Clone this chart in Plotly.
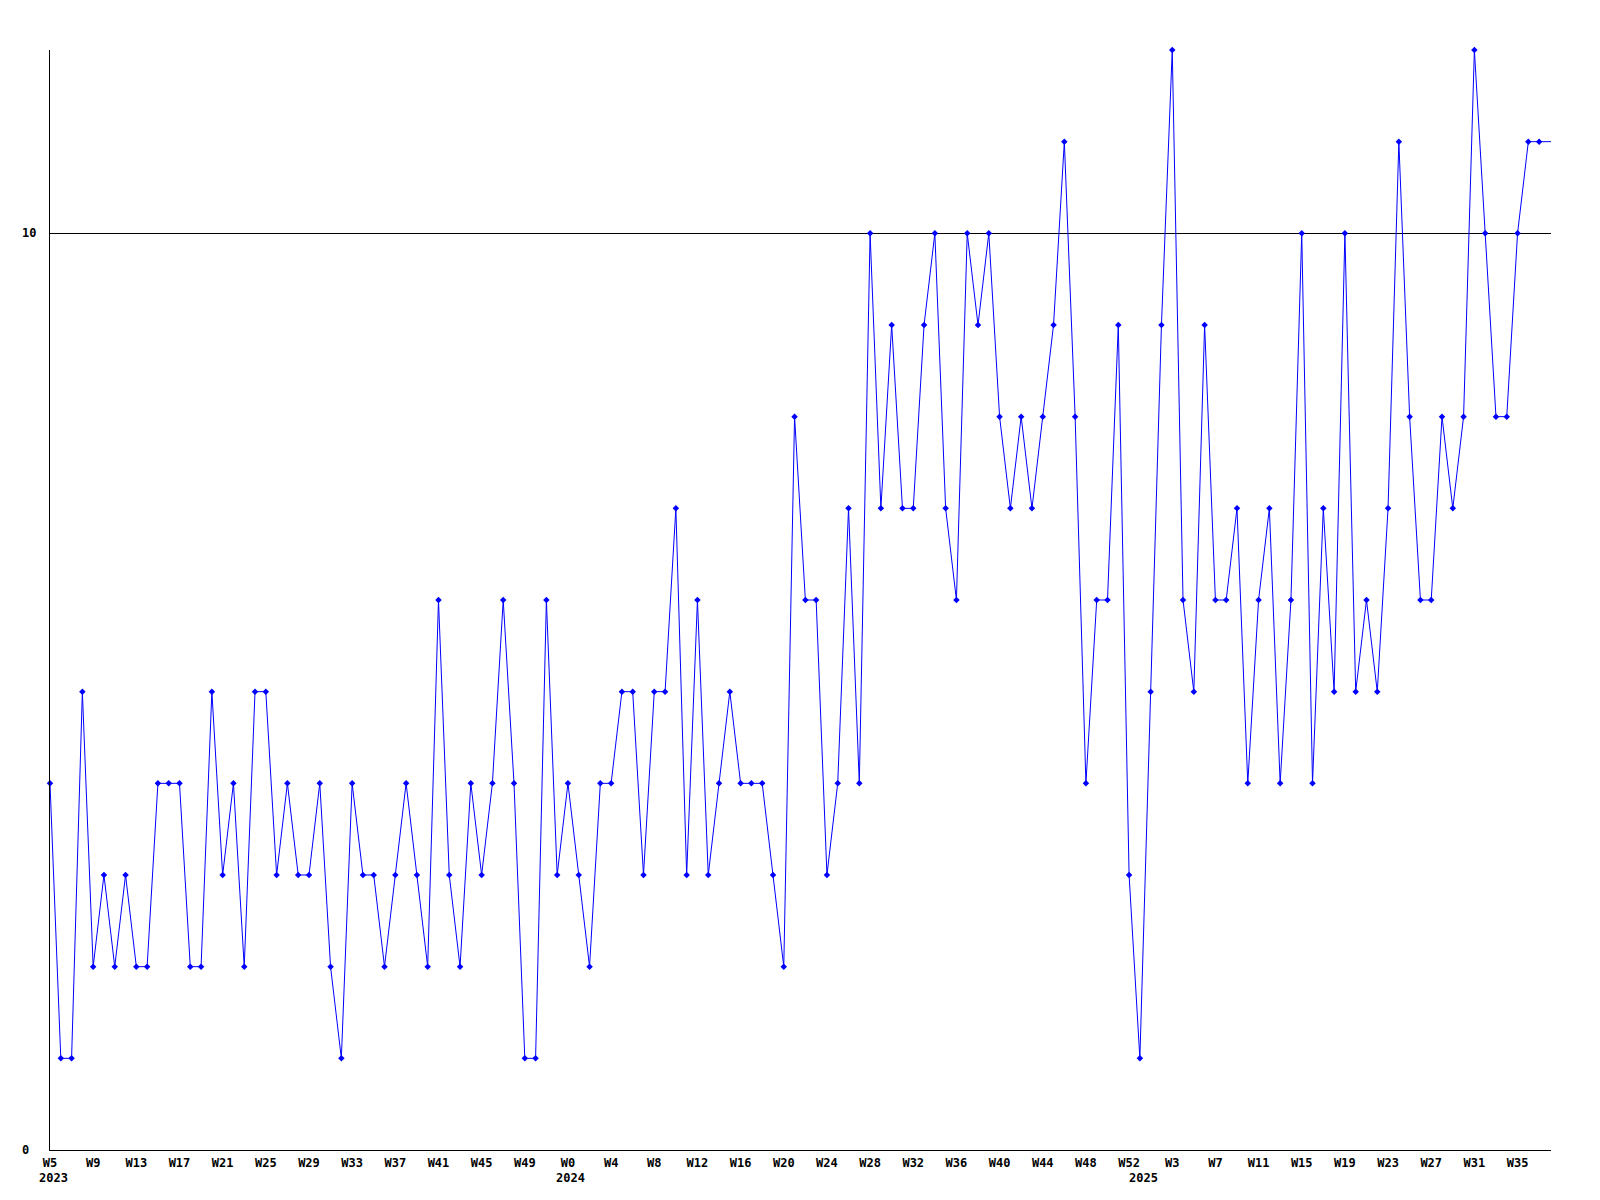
import plotly.graph_objects as go

# Weekly values, starting at W5 2023
values = [4, 1, 1, 5, 2, 3, 2, 3, 2, 2,
          4, 4, 4, 2, 2, 5, 3, 4, 2, 5,
          5, 3, 4, 3, 3, 4, 2, 1, 4, 3,
          3, 2, 3, 4, 3, 2, 6, 3, 2, 4,
          3, 4, 6, 4, 1, 1, 6, 3, 4, 3,
          2, 4, 4, 5, 5, 3, 5, 5, 7, 3,
          6, 3, 4, 5, 4, 4, 4, 3, 2, 8,
          6, 6, 3, 4, 7, 4, 10, 7, 9, 7,
          7, 9, 10, 7, 6, 10, 9, 10, 8, 7,
          8, 7, 8, 9, 11, 8, 4, 6, 6, 9,
          3, 1, 5, 9, 12, 6, 5, 9, 6, 6,
          7, 4, 6, 7, 4, 6, 10, 4, 7, 5,
          10, 5, 6, 5, 7, 11, 8, 6, 6, 8,
          7, 8, 12, 10, 8, 8, 10, 11, 11]

week_labels = ["W5", "W9", "W13", "W17", "W21", "W25", "W29", "W33", "W37", "W41", "W45", "W49",
               "W0", "W4", "W8", "W12", "W16", "W20", "W24", "W28", "W32", "W36", "W40", "W44",
               "W48", "W52",
               "W3", "W7", "W11", "W15", "W19", "W23", "W27", "W31", "W35"]
year_labels = ["2023", "2024", "2025"]
y_tick_labels = ["0", "10"]
y_tick_values = [0, 10]

# positions (week index) where the year labels sit
year_positions = [0.37, 48.2, 101.3]

x = list(range(len(values)))
x_end = 139.1
tick_positions = [i * 4 for i in range(len(week_labels))]

font_family = "DejaVu Sans Mono"

fig = go.Figure()
# line continues to the right edge at the last value
fig.add_trace(go.Scatter(
    x=x + [x_end], y=values + [values[-1]],
    mode="lines", line=dict(color="#0000FF", width=1),
    hoverinfo="skip", showlegend=False, cliponaxis=True))
fig.add_trace(go.Scatter(
    x=x, y=values, mode="markers",
    marker=dict(symbol="diamond", size=5, color="#0000FF", line=dict(width=0)),
    showlegend=False, cliponaxis=False))

# the page places the figure at an 8px body margin
fig.update_layout(
    width=1592, height=1192,
    margin=dict(l=42, r=49, t=42, b=50),
    paper_bgcolor="white", plot_bgcolor="white",
    font=dict(family=font_family, size=12, color="black", weight="bold"),
    showlegend=False,
)
fig.update_xaxes(
    range=[0, x_end], showgrid=False, zeroline=False,
    showline=True, linecolor="black", linewidth=1,
    tickmode="array", tickvals=tick_positions, ticktext=week_labels,
    ticks="", ticklabelstandoff=2,
    tickfont=dict(family=font_family, size=12, color="black", weight="bold"),
)
fig.update_yaxes(
    range=[0, 12], showgrid=True, gridcolor="black", gridwidth=1,
    zeroline=False, showline=True, linecolor="black", linewidth=1,
    tickmode="array", tickvals=y_tick_values, ticktext=y_tick_labels,
    showticklabels=False, ticks="",
)

annotations = []
for label, pos in zip(year_labels, year_positions):
    annotations.append(dict(
        x=pos, y=-0.0250, xref="x", yref="paper", text=label, showarrow=False,
        xanchor="center", yanchor="middle",
        font=dict(family=font_family, size=12, color="black", weight="bold")))
for label, val in zip(y_tick_labels, y_tick_values):
    annotations.append(dict(
        x=-0.0203, y=val, xref="paper", yref="y", text=label, showarrow=False,
        xanchor="left", yanchor="middle",
        font=dict(family=font_family, size=12, color="black", weight="bold")))
fig.update_layout(annotations=annotations)

fig.write_html("out.html")
